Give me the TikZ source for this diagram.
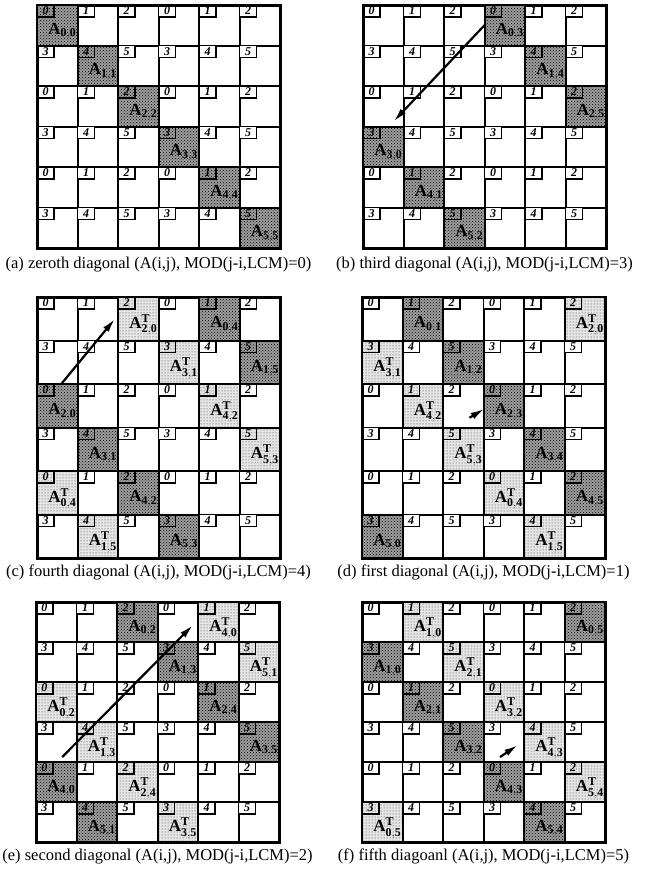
\documentclass[tikz,border=0pt]{standalone}
\usepackage{fontspec}
\setmainfont{Liberation Serif}
\usetikzlibrary{positioning, arrows.meta, patterns}

% one 6x6 panel: name, left, top, row height
\newcommand{\gridpanel}[4]{%
  \foreach \i in {0,...,5}
    \foreach \j in {0,...,5}{
      \pgfmathtruncatemacro{\num}{3*mod(\i,2)+mod(\j,3)}
      \node[cell, minimum height=#4pt] (#1-\i-\j) at ({#2+40.5*\j}, {#3+#4*\i}) {};
      \node[numbox] at (#1-\i-\j.north west) {\num};
    }
  \draw[frame] (#1-0-0.north west) rectangle (#1-5-5.south east);
}
% shaded cell: dark/light, panel, row, column, label
\newcommand{\shadecell}[5]{%
  \fill[#1fill] (#2-#3-#4.north west) rectangle (#2-#3-#4.south east);
  \fill[#1dots] (#2-#3-#4.north west) rectangle (#2-#3-#4.south east);
  \pgfmathtruncatemacro{\num}{3*mod(#3,2)+mod(#4,3)}
  \draw[cellline] (#2-#3-#4.north west) rectangle (#2-#3-#4.south east);
  \node[numbox, fill=none] at (#2-#3-#4.north west) {\num};
  \node[alabel] at ([xshift=5pt,yshift=-6pt]#2-#3-#4.center) {#5};
}
\newcommand{\amat}[1]{$\mathbf{A}_{\mathbf{#1}}$}
\newcommand{\atmat}[1]{$\mathbf{A}^{\mathbf{T}}_{\mathbf{#1}}$}

\begin{document}
\begin{tikzpicture}[
        x=1pt, y=-1pt,
        cell/.style={rectangle, draw, line width=2pt, minimum width=40.5pt, inner sep=0pt, outer sep=0pt, anchor=north west},
        cellline/.style={line width=2pt},
        frame/.style={line width=3pt},
        numbox/.style={rectangle, draw, fill=white, line width=1.5pt, anchor=north west, minimum width=17pt, minimum height=12pt, inner sep=0pt, outer sep=0pt, font=\fontsize{12}{12}\selectfont\bfseries\itshape},
        darkfill/.style={fill=black!38},
        darkdots/.style={pattern=crosshatch dots, pattern color=black},
        lightfill/.style={fill=black!10},
        lightdots/.style={pattern=dots, pattern color=black!80},
        alabel/.style={inner sep=0pt, font=\fontsize{17}{17}\selectfont},
        caption/.style={inner sep=0pt, font=\fontsize{16.5}{19}\selectfont},
        diagarrow/.style={-{Latex[length=14pt, width=7pt]}, line width=2.2pt},
    ]
    \fill[white] (0,0) rectangle (647,871);
    \useasboundingbox (0,0) rectangle (647,871);

    % (a) zeroth diagonal
    \gridpanel{a}{37}{5}{40.5}
    \foreach \k in {0,...,5}{
      \shadecell{dark}{a}{\k}{\k}{\amat{\k,\k}}
    }
    \node[caption, below=9pt of a-5-2.south east] (capa) {(a) zeroth diagonal (A(i,j), MOD(j-i,LCM)=0)};

    % (b) third diagonal
    \gridpanel{b}{363}{5}{40.5}
    \shadecell{dark}{b}{0}{3}{\amat{0,3}}
    \shadecell{dark}{b}{1}{4}{\amat{1,4}}
    \shadecell{dark}{b}{2}{5}{\amat{2,5}}
    \shadecell{dark}{b}{3}{0}{\amat{3,0}}
    \shadecell{dark}{b}{4}{1}{\amat{4,1}}
    \shadecell{dark}{b}{5}{2}{\amat{5,2}}
    \draw[diagarrow] (b-0-3.west) -- ([xshift=-10pt, yshift=5pt]b-3-0.north east);
    \node[caption, below=9pt of b-5-2.south east] (capb) {(b) third diagonal (A(i,j), MOD(j-i,LCM)=3)};

    % (c) fourth diagonal
    \gridpanel{c}{37}{297}{43.5}
    \shadecell{dark}{c}{0}{4}{\amat{0,4}}
    \shadecell{dark}{c}{1}{5}{\amat{1,5}}
    \shadecell{dark}{c}{2}{0}{\amat{2,0}}
    \shadecell{dark}{c}{3}{1}{\amat{3,1}}
    \shadecell{dark}{c}{4}{2}{\amat{4,2}}
    \shadecell{dark}{c}{5}{3}{\amat{5,3}}
    \shadecell{light}{c}{0}{2}{\atmat{2,0}}
    \shadecell{light}{c}{1}{3}{\atmat{3,1}}
    \shadecell{light}{c}{2}{4}{\atmat{4,2}}
    \shadecell{light}{c}{3}{5}{\atmat{5,3}}
    \shadecell{light}{c}{4}{0}{\atmat{0,4}}
    \shadecell{light}{c}{5}{1}{\atmat{1,5}}
    \draw[diagarrow] ([xshift=4pt]c-2-0.north) -- ([xshift=-3pt]c-0-2.west);
    \node[caption, below=7pt of c-5-2.south east] (capc) {(c) fourth diagonal (A(i,j), MOD(j-i,LCM)=4)};

    % (d) first diagonal
    \gridpanel{d}{362}{297}{43.5}
    \shadecell{dark}{d}{0}{1}{\amat{0,1}}
    \shadecell{dark}{d}{1}{2}{\amat{1,2}}
    \shadecell{dark}{d}{2}{3}{\amat{2,3}}
    \shadecell{dark}{d}{3}{4}{\amat{3,4}}
    \shadecell{dark}{d}{4}{5}{\amat{4,5}}
    \shadecell{dark}{d}{5}{0}{\amat{5,0}}
    \shadecell{light}{d}{0}{5}{\atmat{2,0}}
    \shadecell{light}{d}{1}{0}{\atmat{3,1}}
    \shadecell{light}{d}{2}{1}{\atmat{4,2}}
    \shadecell{light}{d}{3}{2}{\atmat{5,3}}
    \shadecell{light}{d}{4}{3}{\atmat{0,4}}
    \shadecell{light}{d}{5}{4}{\atmat{1,5}}
    \draw[diagarrow] ([xshift=-14pt, yshift=-12pt]d-2-3.west) -- ([xshift=1pt, yshift=-3pt]d-2-3.west);
    \node[caption, below=7pt of d-5-2.south east] (capd) {(d) first diagonal (A(i,j), MOD(j-i,LCM)=1)};

    % (e) second diagonal
    \gridpanel{e}{36}{602}{40}
    \shadecell{dark}{e}{0}{2}{\amat{0,2}}
    \shadecell{dark}{e}{1}{3}{\amat{1,3}}
    \shadecell{dark}{e}{2}{4}{\amat{2,4}}
    \shadecell{dark}{e}{3}{5}{\amat{3,5}}
    \shadecell{dark}{e}{4}{0}{\amat{4,0}}
    \shadecell{dark}{e}{5}{1}{\amat{5,1}}
    \shadecell{light}{e}{0}{4}{\atmat{4,0}}
    \shadecell{light}{e}{1}{5}{\atmat{5,1}}
    \shadecell{light}{e}{2}{0}{\atmat{0,2}}
    \shadecell{light}{e}{3}{1}{\atmat{1,3}}
    \shadecell{light}{e}{4}{2}{\atmat{2,4}}
    \shadecell{light}{e}{5}{3}{\atmat{3,5}}
    \draw[diagarrow] ([xshift=6pt, yshift=5pt]e-4-0.north) -- ([xshift=-5pt, yshift=-3pt]e-0-4.west);
    \node[caption, below=7pt of e-5-2.south east] (cape) {(e) second diagonal (A(i,j), MOD(j-i,LCM)=2)};

    % (f) fifth diagonal
    \gridpanel{f}{362}{602}{40}
    \shadecell{dark}{f}{0}{5}{\amat{0,5}}
    \shadecell{dark}{f}{1}{0}{\amat{1,0}}
    \shadecell{dark}{f}{2}{1}{\amat{2,1}}
    \shadecell{dark}{f}{3}{2}{\amat{3,2}}
    \shadecell{dark}{f}{4}{3}{\amat{4,3}}
    \shadecell{dark}{f}{5}{4}{\amat{5,4}}
    \shadecell{light}{f}{0}{1}{\atmat{1,0}}
    \shadecell{light}{f}{1}{2}{\atmat{2,1}}
    \shadecell{light}{f}{2}{3}{\atmat{3,2}}
    \shadecell{light}{f}{3}{4}{\atmat{4,3}}
    \shadecell{light}{f}{4}{5}{\atmat{5,4}}
    \shadecell{light}{f}{5}{0}{\atmat{0,5}}
    \draw[diagarrow] ([xshift=-24pt, yshift=-15pt]f-3-4.west) -- ([xshift=-6pt, yshift=-3pt]f-3-4.west);
    \node[caption, below=7pt of f-5-2.south east] (capf) {(f) fifth diagoanl (A(i,j), MOD(j-i,LCM)=5)};
\end{tikzpicture}
\end{document}
